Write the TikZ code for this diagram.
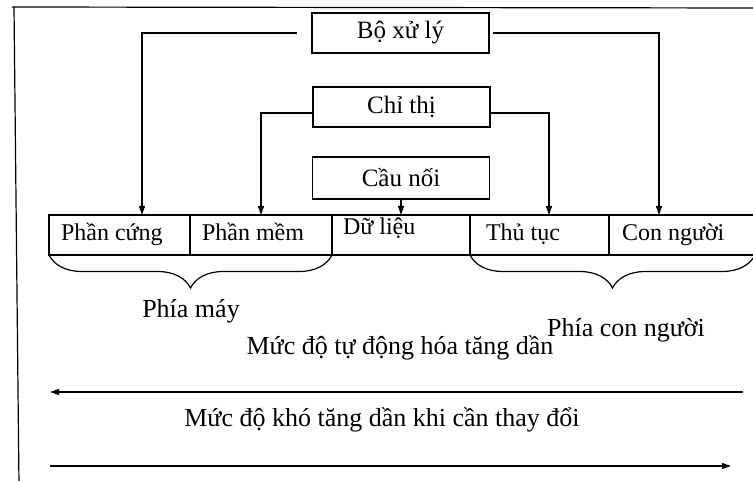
\documentclass[tikz,border=0pt]{standalone}
\usepackage{fontspec}
\setmainfont{Liberation Serif}
\usetikzlibrary{arrows.meta,decorations.pathreplacing}

\tikzset{
  every node/.style={font=\fontsize{24}{28}\selectfont, inner sep=0pt, outer sep=0pt},
  big/.style={font=\fontsize{26}{30}\selectfont},
  ln/.style={line width=1.2pt},
  arr/.style={ln, -{Triangle[length=9pt,width=6pt]}},
  box/.style={ln, draw, minimum width=177pt, minimum height=40pt, font=\fontsize{25}{29}\selectfont},
  cell/.style={ln, draw, minimum height=40pt},
  celltext/.style={anchor=west, text height=17pt, text depth=6pt},
  bracket/.style={ln, decorate, decoration={brace, mirror, amplitude=33pt, aspect=0.5}}
}

\begin{document}
\begin{tikzpicture}[x=1pt, y=-1pt]
  \useasboundingbox (0,0) rectangle (753,481);
  \clip (0,0) rectangle (753,481);

  % outer frame (top and left edges)
  \draw[ln] (12,7) -- (760,8);
  \draw[ln] (14,7) -- (19,485);

  % the three upper boxes
  \node[box] (cpu)    at (400.5,33)  {Bộ xử lý};
  \node[box] (instr)  at (401.5,107) {Chỉ thị};
  \node[box, minimum height=42pt] (bridge) at (401,178) {Cầu nối};

  % row of five components
  \node[cell, minimum width=141pt] (hw)   at (119.5,235) {};
  \node[cell, minimum width=142pt] (sw)   at (261,235)   {};
  \node[cell, minimum width=138pt] (data) at (401,235)   {};
  \node[cell, minimum width=139pt] (proc) at (539.5,235) {};
  \node[cell, minimum width=146pt] (ppl)  at (682,235)   {};

  \node[celltext] (hwt)   at ([xshift=12pt]hw.west)             {Phần cứng};
  \node[celltext] (swt)   at ([xshift=12pt]sw.west)             {Phần mềm};
  \node[celltext] (datat) at ([xshift=11pt,yshift=6pt]data.west) {Dữ liệu};
  \node[celltext] (proct) at ([xshift=16pt]proc.west)           {Thủ tục};
  \node[celltext] (pplt)  at ([xshift=13pt]ppl.west)            {Con người};

  % connectors from the boxes down to the row
  \draw[arr] ([xshift=-15pt]cpu.west) -| ([xshift=22.5pt]hw.north);
  \draw[arr] ([xshift=4pt]cpu.east) -| ([xshift=-23pt]ppl.north);
  \draw[arr] ([yshift=-6pt]instr.west) -| (sw.north);
  \draw[arr] ([yshift=-6pt]instr.east) -| ([xshift=9.5pt]proc.north);
  \draw[arr] (bridge.south) -- (data.north);

  % braces grouping the two sides
  \draw[bracket] (hw.south west) -- (sw.south east);
  \draw[bracket] (proc.south west) -- (ppl.south east);

  \node[big] (machine) at (191,311) {Phía máy};
  \node[big] (human)   at (626,330) {Phía con người};

  % scales along the bottom
  \node[big] (auto) at (400,348) {Mức độ tự động hóa tăng dần};
  \coordinate (autoR) at (743,392);
  \coordinate (autoL) at (50,392);
  \draw[arr] (autoR) -- (autoL);

  \node[big] (hard) at (382,420) {Mức độ khó tăng dần khi cần thay đổi};
  \coordinate (hardL) at (50,466);
  \coordinate (hardR) at (731,466);
  \draw[arr] (hardL) -- (hardR);
\end{tikzpicture}
\end{document}
